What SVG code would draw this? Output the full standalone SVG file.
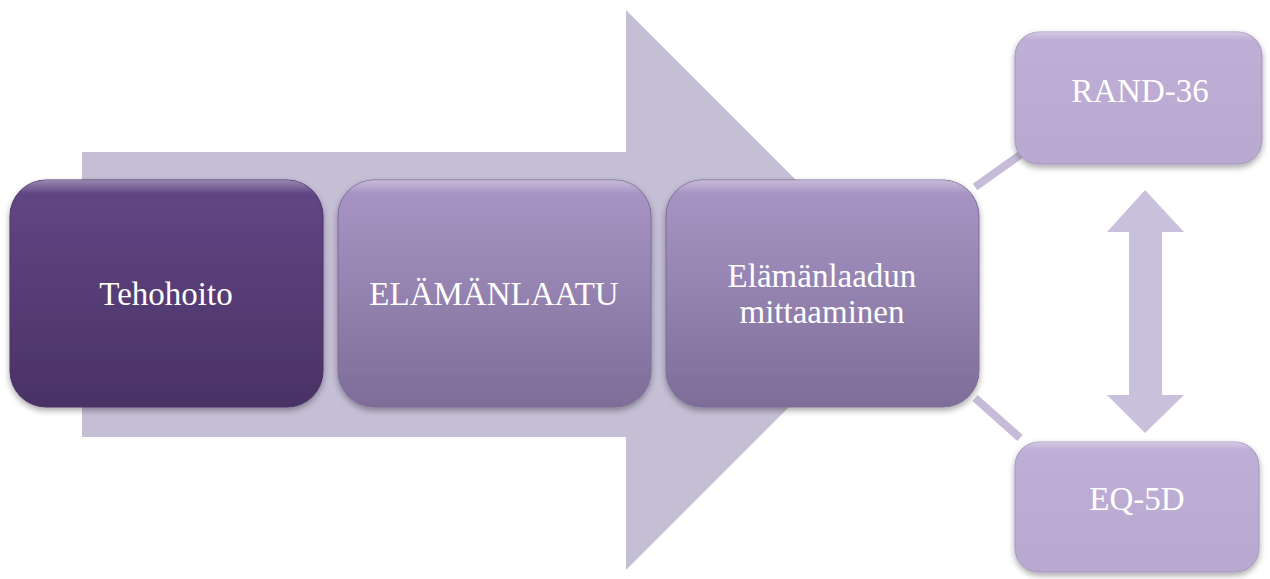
<svg xmlns="http://www.w3.org/2000/svg" width="1270" height="579" viewBox="0 0 1270 579">
<defs>
<linearGradient id="gDark" x1="0" y1="0" x2="0" y2="1"><stop offset="0" stop-color="#634686"/><stop offset="1" stop-color="#4a3265"/></linearGradient>
<linearGradient id="gMid" x1="0" y1="0" x2="0" y2="1"><stop offset="0" stop-color="#a996c6"/><stop offset="1" stop-color="#7e6d98"/></linearGradient>
<linearGradient id="gLight" x1="0" y1="0" x2="0" y2="1"><stop offset="0" stop-color="#bfaed6"/><stop offset="1" stop-color="#b9a8d0"/></linearGradient>
<linearGradient id="hi" x1="0" y1="0" x2="0" y2="1"><stop offset="0" stop-color="#fff" stop-opacity="0.35"/><stop offset="0.06" stop-color="#fff" stop-opacity="0"/></linearGradient>
<filter id="sh" x="-10%" y="-10%" width="120%" height="125%"><feDropShadow dx="0" dy="3" stdDeviation="3" flood-color="#000" flood-opacity="0.35"/></filter>
</defs>
<style>
.t{font-family:"Liberation Serif","Times New Roman",serif;font-size:33px;fill:#fff;text-anchor:middle}
.bx{filter:url(#sh)}
.ln{stroke:#c6bcd9;stroke-width:8;fill:none}
</style>
<g id="bigArrow"><polygon points="82,152 626,152 626,10 906,290 626,570 626,437 82,437" fill="#c5bfd6"/></g>
<g id="connectors">
<line class="ln" x1="975" y1="187" x2="1020" y2="155"/>
<line class="ln" x1="975" y1="398" x2="1020" y2="438"/>
<polygon id="dblArrow" points="1145,190 1184,232 1162,232 1162,395 1184,395 1145,433 1107,395 1129,395 1129,232 1107,232" fill="#c9c0dc"/>
</g>
<g id="n1"><rect class="bx" x="10" y="180" width="313" height="227" rx="36" fill="url(#gDark)" stroke="#4a3366" stroke-width="1"/><rect x="10" y="180" width="313" height="227" rx="36" fill="url(#hi)"/><text class="t" x="166" y="305">Tehohoito</text></g>
<g id="n2"><rect class="bx" x="338" y="180" width="313" height="227" rx="36" fill="url(#gMid)" stroke="#7e6d98" stroke-width="1"/><rect x="338" y="180" width="313" height="227" rx="36" fill="url(#hi)"/><text class="t" x="494" y="305">ELÄMÄNLAATU</text></g>
<g id="n3"><rect class="bx" x="666" y="180" width="313" height="227" rx="36" fill="url(#gMid)" stroke="#7e6d98" stroke-width="1"/><rect x="666" y="180" width="313" height="227" rx="36" fill="url(#hi)"/><text class="t" x="822" y="287">Elämänlaadun</text><text class="t" x="822" y="323">mittaaminen</text></g>
<g id="n4"><rect class="bx" x="1015" y="32" width="247" height="132" rx="24" fill="url(#gLight)" stroke="#a595bf" stroke-width="1"/><rect x="1015" y="32" width="247" height="132" rx="24" fill="url(#hi)"/><text class="t" x="1140" y="102">RAND-36</text></g>
<g id="n5"><rect class="bx" x="1015" y="442" width="244" height="130" rx="24" fill="url(#gLight)" stroke="#a595bf" stroke-width="1"/><rect x="1015" y="442" width="244" height="130" rx="24" fill="url(#hi)"/><text class="t" x="1137" y="510">EQ-5D</text></g>
</svg>
